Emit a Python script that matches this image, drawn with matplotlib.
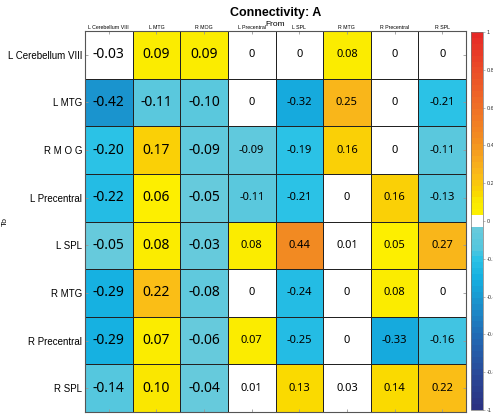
import matplotlib
matplotlib.use('Agg')
import matplotlib.pyplot as plt
from matplotlib.colors import ListedColormap, LinearSegmentedColormap, Normalize
import numpy as np

plt.rcParams['font.family'] = ['Liberation Sans', 'DejaVu Sans']

regions = ['L Cerebellum VIII', 'L MTG', 'R MOG', 'L Precentral',
           'L SPL', 'R MTG', 'R Precentral', 'R SPL']
row_labels = ['L Cerebellum VIII', 'L MTG', 'R M O G', 'L Precentral',
              'L SPL', 'R MTG', 'R Precentral', 'R SPL']

# connectivity values, rows = To, columns = From
conn = np.array([
    [-0.03, 0.09, 0.09, 0.00, 0.00, 0.08, 0.00, 0.00],
    [-0.42, -0.11, -0.10, 0.00, -0.32, 0.25, 0.00, -0.21],
    [-0.20, 0.17, -0.09, -0.09, -0.19, 0.16, 0.00, -0.11],
    [-0.22, 0.06, -0.05, -0.11, -0.21, 0.00, 0.16, -0.13],
    [-0.05, 0.08, -0.034, 0.08, 0.44, 0.01, 0.05, 0.27],
    [-0.29, 0.22, -0.08, 0.00, -0.24, 0.00, 0.08, 0.00],
    [-0.29, 0.07, -0.06, 0.07, -0.25, 0.00, -0.33, -0.16],
    [-0.14, 0.10, -0.04, 0.01, 0.13, 0.03, 0.14, 0.22],
])

cbar_ticks = [-1, -0.8, -0.6, -0.4, -0.2, 0, 0.2, 0.4, 0.6, 0.8, 1]

# colormap: blue side / yellow-red side, white in the two middle bins
neg = LinearSegmentedColormap.from_list('neg', [
    (0.0, (0.17, 0.19, 0.50)),
    (0.2, (0.16, 0.29, 0.60)),
    (0.4, (0.13, 0.42, 0.71)),
    (0.6, (0.10, 0.60, 0.82)),
    (0.7, (0.08, 0.69, 0.88)),
    (0.8, (0.17, 0.76, 0.90)),
    (0.86, (0.33, 0.78, 0.87)),
    (1.0, (0.43, 0.80, 0.86)),
])
pos = LinearSegmentedColormap.from_list('pos', [
    (0.0, (1.00, 0.95, 0.00)),
    (0.1, (0.98, 0.92, 0.00)),
    (0.15, (0.98, 0.84, 0.00)),
    (0.25, (0.98, 0.73, 0.10)),
    (0.44, (0.95, 0.55, 0.13)),
    (0.6, (0.94, 0.44, 0.15)),
    (0.8, (0.92, 0.30, 0.16)),
    (1.0, (0.90, 0.15, 0.15)),
])
centers = (np.arange(32) + 0.5) / 32
colors = np.vstack([neg(centers), pos(centers)])
colors[31] = (1, 1, 1, 1)
colors[32] = (1, 1, 1, 1)
cmap = ListedColormap(colors)
norm = Normalize(-1, 1)

fig = plt.figure(figsize=(4.93, 4.16), dpi=100)
ax = fig.add_axes([85 / 493, 1 - 412 / 416, 381 / 493, 381 / 416])
cax = fig.add_axes([471 / 493, 1 - 410 / 416, 12 / 493, 378 / 416])

n = len(regions)
mesh = ax.pcolormesh(np.arange(n + 1), np.arange(n + 1), conn, cmap=cmap, norm=norm,
                     edgecolors='#222222', linewidth=0.6)
ax.set_xlim(0, n)
ax.set_ylim(n, 0)

for i in range(n):
    for j in range(n):
        v = conn[i, j]
        txt = '0' if v == 0 else f'{v:.2f}'
        fs = 10 if j < 3 else 8
        ax.text(j + 0.5, i + 0.5, txt, ha='center', va='center', fontsize=fs,
                family=['Noto Sans', 'DejaVu Sans'], color='black')

ax.set_xticks(np.arange(n) + 0.5)
ax.set_xticklabels(regions, fontsize=3.8)
ax.set_yticks(np.arange(n) + 0.5)
ax.set_yticklabels(row_labels, fontsize=7)
ax.xaxis.tick_top()
ax.tick_params(axis='both', direction='in', length=2.5, color='#999999', width=0.6,
               top=True, bottom=True, left=True, right=True, pad=2)
ax.tick_params(axis='x', pad=1)
for s in ax.spines.values():
    s.set_color('#555555')
    s.set_linewidth(0.8)
ax.text(0.5, 1.018, 'From', transform=ax.transAxes, ha='center', va='center', fontsize=6)
ax.set_ylabel('To', fontsize=6)
ax.yaxis.set_label_coords(-0.2, 0.5)
ax.set_title('Connectivity: A', fontsize=9, fontweight='bold', pad=11)

cb = fig.colorbar(mesh, cax=cax, ticks=cbar_ticks)
cb.ax.tick_params(labelsize=4, length=1.5, width=0.4, color='#888888',
                  labelcolor='#333333', pad=1)
cb.ax.set_yticklabels([f'{t:g}' for t in cbar_ticks])
cb.outline.set_edgecolor('#777777')
cb.outline.set_linewidth(0.5)

fig.savefig('out.png', dpi=100)
